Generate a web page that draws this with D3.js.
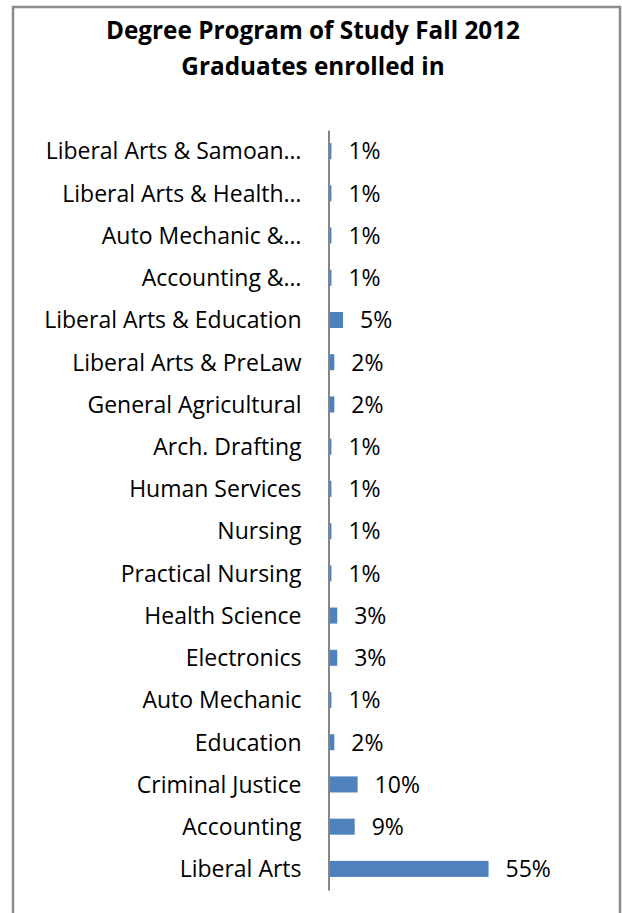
<!DOCTYPE html>
<html>
<head>
<meta charset="utf-8">
<script src="https://cdn.jsdelivr.net/npm/d3@7"></script>
<style>
html,body{margin:0;padding:0;background:#fff;}
svg{display:block;}
text{font-family:"Open Sans",sans-serif;fill:#000;}
</style>
</head>
<body>
<script>
const titleLines = ["Degree Program of Study Fall 2012", "Graduates enrolled in"];
const categories = [
  "Liberal Arts & Samoan…",
  "Liberal Arts & Health…",
  "Auto Mechanic &…",
  "Accounting &…",
  "Liberal Arts & Education",
  "Liberal Arts & PreLaw",
  "General Agricultural",
  "Arch. Drafting",
  "Human Services",
  "Nursing",
  "Practical Nursing",
  "Health Science",
  "Electronics",
  "Auto Mechanic",
  "Education",
  "Criminal Justice",
  "Accounting",
  "Liberal Arts"
];
const values = [1, 1, 1, 1, 5, 2, 2, 1, 1, 1, 1, 3, 3, 1, 2, 10, 9, 55];
const valueLabels = ["1%","1%","1%","1%","5%","2%","2%","1%","1%","1%","1%","3%","3%","1%","2%","10%","9%","55%"];

const W = 622, H = 913;
const svg = d3.select("body").append("svg").attr("width", W).attr("height", H);

// frame
svg.append("path")
  .attr("d", "M13,913 L13,7 L620,7 L620,913")
  .attr("fill", "none").attr("stroke", "#8c8c8c").attr("stroke-width", 2.5);

// title
svg.append("g").selectAll("text").data(titleLines).join("text")
  .attr("x", 313).attr("y", (d, i) => 38.5 + i * 36)
  .attr("text-anchor", "middle")
  .attr("font-size", 24.3).attr("font-weight", "bold")
  .text(d => d);

const x0 = 328.5;
const y = d3.scaleBand().domain(categories).range([130, 890]).paddingInner(0.62).paddingOuter(0.31);
const x = d3.scaleLinear().domain([0, 60]).range([x0, x0 + 174.6]);

svg.append("g").selectAll("rect").data(categories).join("rect")
  .attr("x", x(0))
  .attr("y", d => y(d))
  .attr("width", (d, i) => x(values[i]) - x(0))
  .attr("height", y.bandwidth())
  .attr("fill", "#4F81BD");

// axis
const yAxis = d3.axisLeft(y).tickSize(0).tickPadding(27);
const ag = svg.append("g").attr("transform", `translate(${x0},0)`).call(yAxis);
ag.select(".domain").attr("stroke", "#868686").attr("stroke-width", 2);
ag.selectAll(".tick text").attr("font-size", 23).attr("font-family", "Open Sans").attr("fill", "#000").attr("dy", "0.36em");

// value labels
svg.append("g").selectAll("text").data(categories).join("text")
  .attr("x", (d, i) => x(values[i]) + 17)
  .attr("y", d => y(d) + y.bandwidth() / 2)
  .attr("dy", "0.36em")
  .attr("font-size", 23)
  .text((d, i) => valueLabels[i]);
</script>
</body>
</html>
